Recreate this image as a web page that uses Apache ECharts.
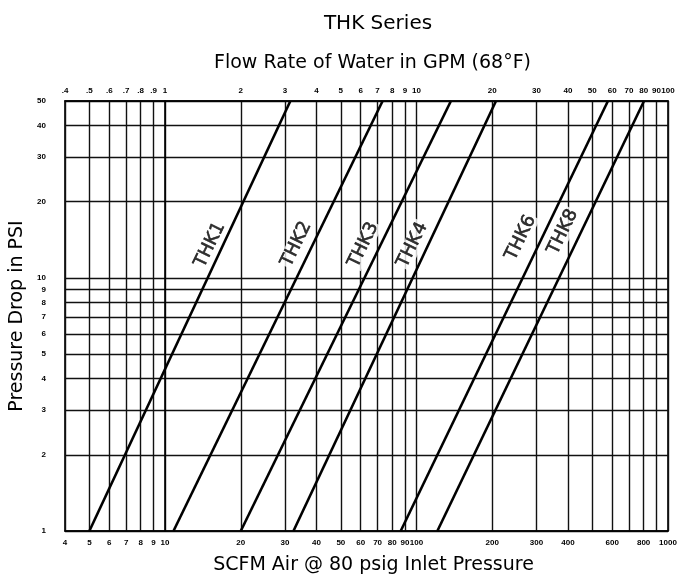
<!DOCTYPE html>
<html><head><meta charset="utf-8">
<script src="https://cdn.jsdelivr.net/npm/echarts@6/dist/echarts.min.js"></script>
<style>html,body{margin:0;padding:0;background:#fff}#c{width:681px;height:579px}</style>
</head><body><div id="c"></div>
<script>
// ---- data ----
const seriesNames = ['THK1', 'THK2', 'THK3', 'THK4', 'THK6', 'THK8'];
const psiEnds = [1, 50];
const scfmAtLowPsi = [5, 10.8, 20, 32.4, 86.5, 121];      // SCFM at 1 psi
const scfmAtHighPsi = [31.5, 73.3, 137, 207, 577, 803];   // SCFM at 50 psi
const labelScfm = [15.1, 33.3, 61.5, 96.4, 260, 382];
const labelPsi = [13.5, 13.6, 13.5, 13.5, 14.4, 15.2];
const scfmTicks = [4,5,6,7,8,9,10,20,30,40,50,60,70,80,90,100,200,300,400,500,600,700,800,900,1000];
const scfmLabels = [4,5,6,7,8,9,10,20,30,40,50,60,70,80,90,100,200,300,400,600,800,1000];
const gpmTicks = [0.4,0.5,0.6,0.7,0.8,0.9,1,2,3,4,5,6,7,8,9,10,20,30,40,50,60,70,80,90,100];
const gpmLabels = [0.4,0.5,0.6,0.7,0.8,0.9,1,2,3,4,5,6,7,8,9,10,20,30,40,50,60,70,80,90,100];
const psiTicks = [1,2,3,4,5,6,7,8,9,10,20,30,40,50];
const psiLabels = [1,2,3,4,5,6,7,8,9,10,20,30,40,50];

const L = Math.log10;
const fmt = v => {
  const x = Math.pow(10, v);
  if (x < 0.95) return '.' + Math.round(x * 10);
  return String(Math.round(x));
};
const FONT = 'DejaVu Sans';
const gridLine = { show: true, lineStyle: { color: '#111', width: 1.4, type: 'solid' } };
const tickLbl = { fontFamily: 'Liberation Sans Narrow, Liberation Sans, sans-serif', fontSize: 8, fontWeight: 'bold', color: '#000' };

const lineSeries = seriesNames.map((n, i) => ({
  name: n, type: 'line', xAxisIndex: 0, yAxisIndex: 0, symbol: 'none', silent: true,
  lineStyle: { color: '#000', width: 2.6 },
  data: [[L(scfmAtLowPsi[i]), L(psiEnds[0])], [L(scfmAtHighPsi[i]), L(psiEnds[1])]],
  z: 3
}));
const labelSeries = {
  type: 'scatter', xAxisIndex: 0, yAxisIndex: 0, symbolSize: 0, silent: true, z: 5,
  data: seriesNames.map((n, i) => [L(labelScfm[i]), L(labelPsi[i]), n]),
  label: {
    show: true, position: 'inside', rotate: 64,
    formatter: p => p.data[2],
    fontFamily: FONT, fontSize: 18, color: '#000',
    textBorderColor: '#000', textBorderWidth: 0.6,
    backgroundColor: '#fff', padding: [0, 1]
  }
};

const chart = echarts.init(document.getElementById('c'), null, { renderer: 'canvas' });
chart.setOption({
  backgroundColor: '#fff',
  animation: false,
  title: { text: 'THK Series', left: 373, textAlign: 'center', top: 9,
    textStyle: { fontFamily: FONT, fontSize: 20, fontWeight: 'normal', color: '#000' } },
  grid: { left: 65, right: 13, top: 101, bottom: 48, containLabel: false, outerBoundsMode: 'none',
    show: true, borderColor: '#000', borderWidth: 1.6, backgroundColor: 'transparent' },
  xAxis: [
    { type: 'value', position: 'bottom', min: L(4), max: L(1000),
      name: 'SCFM Air @ 80 psig Inlet Pressure', nameLocation: 'middle', nameGap: 25,
      nameTextStyle: { fontFamily: FONT, fontSize: 19, color: '#000', verticalAlign: 'top', padding: [0, 0, 0, 14] },
      axisLine: { show: true, lineStyle: { color: '#000', width: 1.6 } },
      axisTick: { show: false, customValues: scfmTicks.map(L) },
      axisLabel: Object.assign({ customValues: scfmLabels.map(L), formatter: fmt, margin: 8 }, tickLbl),
      splitLine: gridLine },
    { type: 'value', position: 'top', min: L(0.4), max: L(100),
      name: 'Flow Rate of Water in GPM (68°F)', nameLocation: 'middle', nameGap: 28,
      nameTextStyle: { fontFamily: FONT, fontSize: 19, color: '#000', verticalAlign: 'bottom', padding: [0, 0, 0, 12] },
      axisLine: { show: true, lineStyle: { color: '#000', width: 1.6 } },
      axisTick: { show: false, customValues: gpmTicks.map(L) },
      axisLabel: Object.assign({ customValues: gpmLabels.map(L), formatter: fmt, margin: 6 }, tickLbl),
      splitLine: { show: false } }
  ],
  yAxis: [
    { type: 'value', min: L(1), max: L(50),
      name: 'Pressure Drop in PSI', nameLocation: 'middle', nameGap: 36,
      nameTextStyle: { fontFamily: FONT, fontSize: 19, color: '#000' },
      axisLine: { show: true, lineStyle: { color: '#000', width: 1.6 } },
      axisTick: { show: false, customValues: psiTicks.map(L) },
      axisLabel: Object.assign({ customValues: psiLabels.map(L), formatter: fmt, margin: 19 }, tickLbl),
      splitLine: gridLine }
  ],
  series: lineSeries.concat([labelSeries])
});
</script></body></html>
